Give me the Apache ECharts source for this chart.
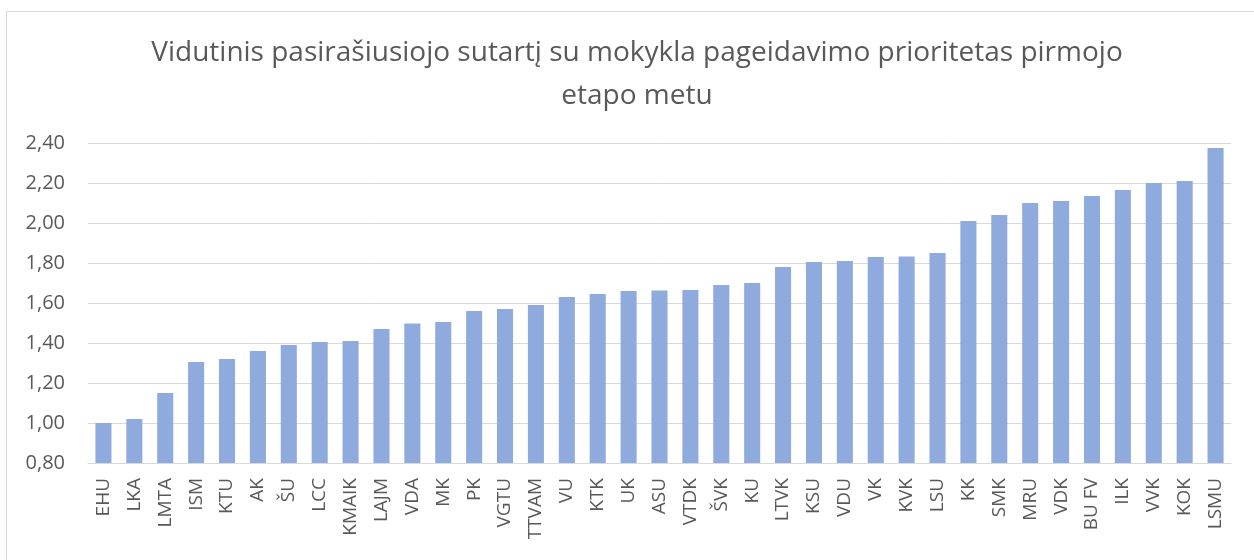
<!DOCTYPE html>
<html>
<head>
    <meta charset="utf-8">
    <title>Vidutinis prioritetas</title>
    <script src="https://cdn.jsdelivr.net/npm/echarts@6.0.0/dist/echarts.min.js"></script>
    <style>
        body { margin: 0; background: #fff; }
        #frame {
            position: absolute;
            left: 6px;
            top: 11px;
            width: 1260px;
            height: 560px;
            border: 1px solid #d9d9d9;
        }
        #chart-container {
            position: absolute;
            left: 0;
            top: 0;
            width: 1254px;
            height: 560px;
        }
    </style>
</head>
<body>
<div id="frame"></div>
<div id="chart-container"></div>
<script>
    // Mokyklos ir vidutinis prioritetas
    const schools = ['EHU', 'LKA', 'LMTA', 'ISM', 'KTU', 'AK', 'ŠU', 'LCC', 'KMAIK', 'LAJM',
        'VDA', 'MK', 'PK', 'VGTU', 'TTVAM', 'VU', 'KTK', 'UK', 'ASU', 'VTDK',
        'ŠVK', 'KU', 'LTVK', 'KSU', 'VDU', 'VK', 'KVK', 'LSU', 'KK', 'SMK',
        'MRU', 'VDK', 'BU FV', 'ILK', 'VVK', 'KOK', 'LSMU'];
    const priority = [1.00, 1.02, 1.15, 1.305, 1.32, 1.36, 1.39, 1.405, 1.41, 1.47,
        1.497, 1.505, 1.56, 1.57, 1.59, 1.63, 1.645, 1.66, 1.662, 1.665,
        1.69, 1.70, 1.78, 1.805, 1.81, 1.83, 1.833, 1.85, 2.01, 2.04,
        2.10, 2.11, 2.135, 2.165, 2.20, 2.21, 2.375];

    const chart = echarts.init(document.getElementById('chart-container'));
    const fontFamily = '"Open Sans", "Noto Sans", sans-serif';

    chart.setOption({
        animation: false,
        title: {
            text: 'Vidutinis pasirašiusiojo sutartį su mokykla pageidavimo prioritetas pirmojo\netapo metu',
            left: 632,
            top: 27,
            textAlign: 'center',
            textStyle: {
                fontFamily: fontFamily,
                fontSize: 28,
                fontWeight: 'normal',
                color: '#595959',
                lineHeight: 43,
                align: 'center'
            }
        },
        grid: {
            left: 88,
            right: 23,
            top: 143,
            bottom: 97
        },
        xAxis: {
            type: 'category',
            data: schools,
            axisLine: { lineStyle: { color: '#d9d9d9', width: 1 } },
            axisTick: { show: false },
            axisLabel: {
                rotate: 90,
                interval: 0,
                margin: 15,
                fontFamily: fontFamily,
                fontSize: 19,
                color: '#595959'
            }
        },
        yAxis: {
            type: 'value',
            min: 0.8,
            max: 2.4,
            interval: 0.2,
            axisLine: { show: false },
            axisTick: { show: false },
            splitLine: { lineStyle: { color: '#d9d9d9', width: 1 } },
            axisLabel: {
                margin: 23,
                fontFamily: fontFamily,
                fontSize: 20,
                color: '#595959',
                formatter: v => v.toFixed(2).replace('.', ',')
            }
        },
        series: [{
            type: 'bar',
            data: priority,
            barCategoryGap: '48%',
            itemStyle: { color: '#8faadc' }
        }]
    });
</script>
</body>
</html>
